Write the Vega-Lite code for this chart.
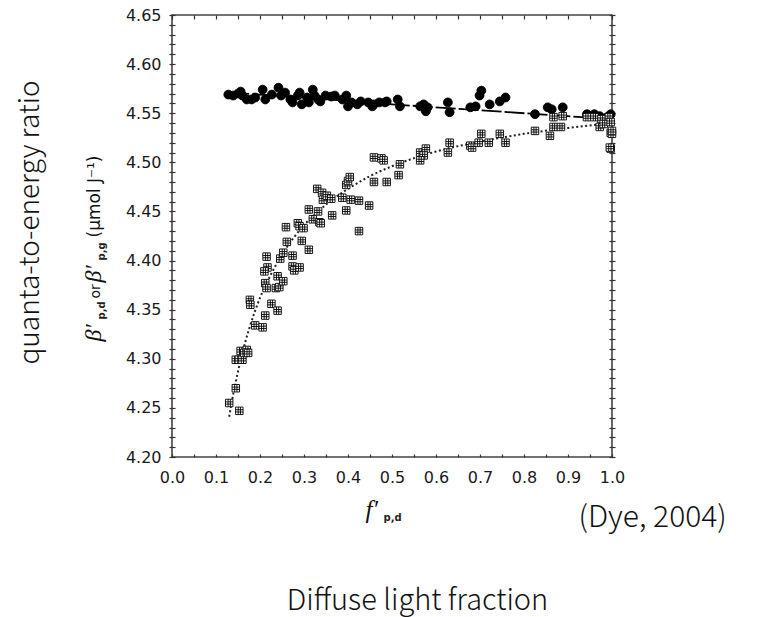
{
  "$schema": "https://vega.github.io/schema/vega-lite/v6.json",
  "width": 440,
  "height": 442,
  "autosize": "none",
  "padding": {"left": 172, "top": 15, "right": 149, "bottom": 160},
  "background": "white",
  "config": {
    "view": {"stroke": "#444", "strokeWidth": 1.6},
    "axis": {"grid": false, "labelFont": "DejaVu Sans", "labelFontSize": 16, "labelColor": "#1a1a1a", "tickColor": "#333", "tickWidth": 1.2, "domain": false}
  },
  "datasets": {
    "pts": [
      {"x": 0.128, "y": 4.569, "series": "daily global PAR"},
      {"x": 0.139, "y": 4.568, "series": "daily global PAR"},
      {"x": 0.150, "y": 4.570, "series": "daily global PAR"},
      {"x": 0.156, "y": 4.572, "series": "daily global PAR"},
      {"x": 0.160, "y": 4.568, "series": "daily global PAR"},
      {"x": 0.170, "y": 4.564, "series": "daily global PAR"},
      {"x": 0.181, "y": 4.564, "series": "daily global PAR"},
      {"x": 0.189, "y": 4.566, "series": "daily global PAR"},
      {"x": 0.206, "y": 4.574, "series": "daily global PAR"},
      {"x": 0.212, "y": 4.564, "series": "daily global PAR"},
      {"x": 0.227, "y": 4.569, "series": "daily global PAR"},
      {"x": 0.242, "y": 4.576, "series": "daily global PAR"},
      {"x": 0.248, "y": 4.568, "series": "daily global PAR"},
      {"x": 0.257, "y": 4.571, "series": "daily global PAR"},
      {"x": 0.269, "y": 4.564, "series": "daily global PAR"},
      {"x": 0.274, "y": 4.561, "series": "daily global PAR"},
      {"x": 0.286, "y": 4.568, "series": "daily global PAR"},
      {"x": 0.290, "y": 4.571, "series": "daily global PAR"},
      {"x": 0.295, "y": 4.559, "series": "daily global PAR"},
      {"x": 0.307, "y": 4.566, "series": "daily global PAR"},
      {"x": 0.311, "y": 4.561, "series": "daily global PAR"},
      {"x": 0.320, "y": 4.574, "series": "daily global PAR"},
      {"x": 0.324, "y": 4.568, "series": "daily global PAR"},
      {"x": 0.332, "y": 4.564, "series": "daily global PAR"},
      {"x": 0.337, "y": 4.562, "series": "daily global PAR"},
      {"x": 0.349, "y": 4.568, "series": "daily global PAR"},
      {"x": 0.362, "y": 4.567, "series": "daily global PAR"},
      {"x": 0.370, "y": 4.568, "series": "daily global PAR"},
      {"x": 0.387, "y": 4.564, "series": "daily global PAR"},
      {"x": 0.396, "y": 4.568, "series": "daily global PAR"},
      {"x": 0.400, "y": 4.557, "series": "daily global PAR"},
      {"x": 0.408, "y": 4.561, "series": "daily global PAR"},
      {"x": 0.421, "y": 4.559, "series": "daily global PAR"},
      {"x": 0.429, "y": 4.562, "series": "daily global PAR"},
      {"x": 0.446, "y": 4.561, "series": "daily global PAR"},
      {"x": 0.455, "y": 4.557, "series": "daily global PAR"},
      {"x": 0.459, "y": 4.559, "series": "daily global PAR"},
      {"x": 0.471, "y": 4.561, "series": "daily global PAR"},
      {"x": 0.484, "y": 4.561, "series": "daily global PAR"},
      {"x": 0.488, "y": 4.562, "series": "daily global PAR"},
      {"x": 0.513, "y": 4.564, "series": "daily global PAR"},
      {"x": 0.518, "y": 4.557, "series": "daily global PAR"},
      {"x": 0.564, "y": 4.557, "series": "daily global PAR"},
      {"x": 0.572, "y": 4.559, "series": "daily global PAR"},
      {"x": 0.577, "y": 4.552, "series": "daily global PAR"},
      {"x": 0.581, "y": 4.556, "series": "daily global PAR"},
      {"x": 0.627, "y": 4.561, "series": "daily global PAR"},
      {"x": 0.631, "y": 4.551, "series": "daily global PAR"},
      {"x": 0.678, "y": 4.556, "series": "daily global PAR"},
      {"x": 0.690, "y": 4.557, "series": "daily global PAR"},
      {"x": 0.699, "y": 4.568, "series": "daily global PAR"},
      {"x": 0.703, "y": 4.573, "series": "daily global PAR"},
      {"x": 0.722, "y": 4.559, "series": "daily global PAR"},
      {"x": 0.745, "y": 4.562, "series": "daily global PAR"},
      {"x": 0.758, "y": 4.566, "series": "daily global PAR"},
      {"x": 0.825, "y": 4.549, "series": "daily global PAR"},
      {"x": 0.854, "y": 4.556, "series": "daily global PAR"},
      {"x": 0.863, "y": 4.554, "series": "daily global PAR"},
      {"x": 0.888, "y": 4.556, "series": "daily global PAR"},
      {"x": 0.943, "y": 4.549, "series": "daily global PAR"},
      {"x": 0.960, "y": 4.549, "series": "daily global PAR"},
      {"x": 0.972, "y": 4.547, "series": "daily global PAR"},
      {"x": 0.989, "y": 4.546, "series": "daily global PAR"},
      {"x": 0.997, "y": 4.549, "series": "daily global PAR"},
      {"x": 0.130, "y": 4.255, "series": "daily diffuse PAR"},
      {"x": 0.145, "y": 4.270, "series": "daily diffuse PAR"},
      {"x": 0.153, "y": 4.247, "series": "daily diffuse PAR"},
      {"x": 0.145, "y": 4.299, "series": "daily diffuse PAR"},
      {"x": 0.152, "y": 4.299, "series": "daily diffuse PAR"},
      {"x": 0.160, "y": 4.299, "series": "daily diffuse PAR"},
      {"x": 0.156, "y": 4.308, "series": "daily diffuse PAR"},
      {"x": 0.164, "y": 4.306, "series": "daily diffuse PAR"},
      {"x": 0.170, "y": 4.309, "series": "daily diffuse PAR"},
      {"x": 0.173, "y": 4.306, "series": "daily diffuse PAR"},
      {"x": 0.189, "y": 4.334, "series": "daily diffuse PAR"},
      {"x": 0.206, "y": 4.332, "series": "daily diffuse PAR"},
      {"x": 0.212, "y": 4.344, "series": "daily diffuse PAR"},
      {"x": 0.177, "y": 4.360, "series": "daily diffuse PAR"},
      {"x": 0.178, "y": 4.355, "series": "daily diffuse PAR"},
      {"x": 0.212, "y": 4.377, "series": "daily diffuse PAR"},
      {"x": 0.217, "y": 4.393, "series": "daily diffuse PAR"},
      {"x": 0.215, "y": 4.404, "series": "daily diffuse PAR"},
      {"x": 0.210, "y": 4.389, "series": "daily diffuse PAR"},
      {"x": 0.215, "y": 4.372, "series": "daily diffuse PAR"},
      {"x": 0.240, "y": 4.384, "series": "daily diffuse PAR"},
      {"x": 0.236, "y": 4.372, "series": "daily diffuse PAR"},
      {"x": 0.244, "y": 4.373, "series": "daily diffuse PAR"},
      {"x": 0.253, "y": 4.379, "series": "daily diffuse PAR"},
      {"x": 0.226, "y": 4.356, "series": "daily diffuse PAR"},
      {"x": 0.240, "y": 4.349, "series": "daily diffuse PAR"},
      {"x": 0.246, "y": 4.402, "series": "daily diffuse PAR"},
      {"x": 0.253, "y": 4.408, "series": "daily diffuse PAR"},
      {"x": 0.259, "y": 4.434, "series": "daily diffuse PAR"},
      {"x": 0.261, "y": 4.419, "series": "daily diffuse PAR"},
      {"x": 0.274, "y": 4.405, "series": "daily diffuse PAR"},
      {"x": 0.274, "y": 4.394, "series": "daily diffuse PAR"},
      {"x": 0.278, "y": 4.390, "series": "daily diffuse PAR"},
      {"x": 0.290, "y": 4.393, "series": "daily diffuse PAR"},
      {"x": 0.286, "y": 4.438, "series": "daily diffuse PAR"},
      {"x": 0.290, "y": 4.435, "series": "daily diffuse PAR"},
      {"x": 0.299, "y": 4.433, "series": "daily diffuse PAR"},
      {"x": 0.295, "y": 4.420, "series": "daily diffuse PAR"},
      {"x": 0.311, "y": 4.411, "series": "daily diffuse PAR"},
      {"x": 0.311, "y": 4.452, "series": "daily diffuse PAR"},
      {"x": 0.320, "y": 4.442, "series": "daily diffuse PAR"},
      {"x": 0.332, "y": 4.450, "series": "daily diffuse PAR"},
      {"x": 0.335, "y": 4.439, "series": "daily diffuse PAR"},
      {"x": 0.338, "y": 4.438, "series": "daily diffuse PAR"},
      {"x": 0.330, "y": 4.473, "series": "daily diffuse PAR"},
      {"x": 0.341, "y": 4.469, "series": "daily diffuse PAR"},
      {"x": 0.343, "y": 4.462, "series": "daily diffuse PAR"},
      {"x": 0.352, "y": 4.466, "series": "daily diffuse PAR"},
      {"x": 0.362, "y": 4.463, "series": "daily diffuse PAR"},
      {"x": 0.364, "y": 4.446, "series": "daily diffuse PAR"},
      {"x": 0.387, "y": 4.464, "series": "daily diffuse PAR"},
      {"x": 0.396, "y": 4.451, "series": "daily diffuse PAR"},
      {"x": 0.396, "y": 4.477, "series": "daily diffuse PAR"},
      {"x": 0.400, "y": 4.481, "series": "daily diffuse PAR"},
      {"x": 0.404, "y": 4.485, "series": "daily diffuse PAR"},
      {"x": 0.406, "y": 4.462, "series": "daily diffuse PAR"},
      {"x": 0.425, "y": 4.461, "series": "daily diffuse PAR"},
      {"x": 0.425, "y": 4.430, "series": "daily diffuse PAR"},
      {"x": 0.448, "y": 4.456, "series": "daily diffuse PAR"},
      {"x": 0.459, "y": 4.480, "series": "daily diffuse PAR"},
      {"x": 0.488, "y": 4.480, "series": "daily diffuse PAR"},
      {"x": 0.459, "y": 4.505, "series": "daily diffuse PAR"},
      {"x": 0.476, "y": 4.504, "series": "daily diffuse PAR"},
      {"x": 0.481, "y": 4.502, "series": "daily diffuse PAR"},
      {"x": 0.518, "y": 4.498, "series": "daily diffuse PAR"},
      {"x": 0.515, "y": 4.487, "series": "daily diffuse PAR"},
      {"x": 0.564, "y": 4.510, "series": "daily diffuse PAR"},
      {"x": 0.577, "y": 4.514, "series": "daily diffuse PAR"},
      {"x": 0.572, "y": 4.507, "series": "daily diffuse PAR"},
      {"x": 0.564, "y": 4.502, "series": "daily diffuse PAR"},
      {"x": 0.627, "y": 4.510, "series": "daily diffuse PAR"},
      {"x": 0.631, "y": 4.520, "series": "daily diffuse PAR"},
      {"x": 0.678, "y": 4.517, "series": "daily diffuse PAR"},
      {"x": 0.682, "y": 4.515, "series": "daily diffuse PAR"},
      {"x": 0.697, "y": 4.520, "series": "daily diffuse PAR"},
      {"x": 0.703, "y": 4.529, "series": "daily diffuse PAR"},
      {"x": 0.720, "y": 4.520, "series": "daily diffuse PAR"},
      {"x": 0.745, "y": 4.529, "series": "daily diffuse PAR"},
      {"x": 0.758, "y": 4.520, "series": "daily diffuse PAR"},
      {"x": 0.825, "y": 4.532, "series": "daily diffuse PAR"},
      {"x": 0.859, "y": 4.527, "series": "daily diffuse PAR"},
      {"x": 0.867, "y": 4.536, "series": "daily diffuse PAR"},
      {"x": 0.884, "y": 4.536, "series": "daily diffuse PAR"},
      {"x": 0.867, "y": 4.546, "series": "daily diffuse PAR"},
      {"x": 0.888, "y": 4.547, "series": "daily diffuse PAR"},
      {"x": 0.943, "y": 4.546, "series": "daily diffuse PAR"},
      {"x": 0.960, "y": 4.546, "series": "daily diffuse PAR"},
      {"x": 0.976, "y": 4.544, "series": "daily diffuse PAR"},
      {"x": 0.993, "y": 4.546, "series": "daily diffuse PAR"},
      {"x": 0.972, "y": 4.536, "series": "daily diffuse PAR"},
      {"x": 0.981, "y": 4.539, "series": "daily diffuse PAR"},
      {"x": 0.997, "y": 4.541, "series": "daily diffuse PAR"},
      {"x": 0.997, "y": 4.530, "series": "daily diffuse PAR"},
      {"x": 1.000, "y": 4.529, "series": "daily diffuse PAR"},
      {"x": 0.997, "y": 4.514, "series": "daily diffuse PAR"},
      {"x": 0.995, "y": 4.515, "series": "daily diffuse PAR"},
      {"x": 1.000, "y": 4.532, "series": "daily diffuse PAR"}
    ],
    "gfit": [
      {"x": 0.13, "y": 4.571},
      {"x": 0.3, "y": 4.566},
      {"x": 0.5, "y": 4.559},
      {"x": 0.7, "y": 4.553},
      {"x": 0.9, "y": 4.547},
      {"x": 1.0, "y": 4.544}
    ],
    "dfit": [
      {"x": 0.13, "y": 4.241},
      {"x": 0.14, "y": 4.266},
      {"x": 0.15, "y": 4.287},
      {"x": 0.16, "y": 4.306},
      {"x": 0.175, "y": 4.330},
      {"x": 0.2, "y": 4.362},
      {"x": 0.225, "y": 4.386},
      {"x": 0.25, "y": 4.406},
      {"x": 0.3, "y": 4.436},
      {"x": 0.35, "y": 4.457},
      {"x": 0.4, "y": 4.473},
      {"x": 0.45, "y": 4.486},
      {"x": 0.5, "y": 4.496},
      {"x": 0.6, "y": 4.511},
      {"x": 0.7, "y": 4.521},
      {"x": 0.8, "y": 4.529},
      {"x": 0.9, "y": 4.535},
      {"x": 1.0, "y": 4.540}
    ],
    "anchor": [
      {"x": 0.5, "y": 4.4}
    ]
  },
  "resolve": {"axis": {"x": "independent", "y": "independent"}},
  "layer": [
    {
      "data": {"name": "gfit"},
      "mark": {"type": "line", "stroke": "#000", "strokeWidth": 1.8, "strokeDash": [20, 3]},
      "encoding": {
        "x": {"field": "x", "type": "quantitative", "scale": {"domain": [0, 1], "nice": false, "zero": false},
          "axis": {"orient": "bottom", "title": null, "offset": -3, "tickSize": 3, "labelPadding": 12, "labelFlush": false, "labelOverlap": false, "labelBound": false,
            "values": [0, 0.05, 0.1, 0.15, 0.2, 0.25, 0.3, 0.35, 0.4, 0.45, 0.5, 0.55, 0.6, 0.65, 0.7, 0.75, 0.8, 0.85, 0.9, 0.95, 1.0],
            "labelExpr": "round(datum.value*100) % 10 == 0 ? format(datum.value, '.1f') : ''"}},
        "y": {"field": "y", "type": "quantitative", "scale": {"domain": [4.2, 4.65], "nice": false, "zero": false},
          "axis": {"orient": "left", "title": null, "offset": -3, "tickSize": 6, "labelPadding": 8, "labelFlush": false, "labelOverlap": false, "labelBound": false,
            "values": [4.2, 4.21, 4.22, 4.23, 4.24, 4.25, 4.26, 4.27, 4.28, 4.29, 4.3, 4.31, 4.32, 4.33, 4.34, 4.35, 4.36, 4.37, 4.38, 4.39, 4.4, 4.41, 4.42, 4.43, 4.44, 4.45, 4.46, 4.47, 4.48, 4.49, 4.5, 4.51, 4.52, 4.53, 4.54, 4.55, 4.56, 4.57, 4.58, 4.59, 4.6, 4.61, 4.62, 4.63, 4.64, 4.65],
            "labelExpr": "round(datum.value*100) % 5 == 0 ? format(datum.value, '.2f') : ''"}}
      }
    },
    {
      "data": {"name": "dfit"},
      "mark": {"type": "line", "stroke": "#222", "strokeWidth": 2, "strokeDash": [2, 2.5], "interpolate": "monotone"},
      "encoding": {
        "x": {"field": "x", "type": "quantitative", "scale": {"domain": [0, 1], "nice": false, "zero": false},
          "axis": {"orient": "top", "title": null, "offset": -4, "tickSize": 4, "labels": false,
            "values": [0, 0.05, 0.1, 0.15, 0.2, 0.25, 0.3, 0.35, 0.4, 0.45, 0.5, 0.55, 0.6, 0.65, 0.7, 0.75, 0.8, 0.85, 0.9, 0.95, 1.0]}},
        "y": {"field": "y", "type": "quantitative", "scale": {"domain": [4.2, 4.65], "nice": false, "zero": false},
          "axis": {"orient": "right", "title": null, "offset": -3, "tickSize": 6, "labels": false,
            "values": [4.2, 4.21, 4.22, 4.23, 4.24, 4.25, 4.26, 4.27, 4.28, 4.29, 4.3, 4.31, 4.32, 4.33, 4.34, 4.35, 4.36, 4.37, 4.38, 4.39, 4.4, 4.41, 4.42, 4.43, 4.44, 4.45, 4.46, 4.47, 4.48, 4.49, 4.5, 4.51, 4.52, 4.53, 4.54, 4.55, 4.56, 4.57, 4.58, 4.59, 4.6, 4.61, 4.62, 4.63, 4.64, 4.65]}}
      }
    },
    {
      "data": {"name": "pts"},
      "mark": {"type": "point", "filled": true, "stroke": "#000", "strokeWidth": 0.9, "opacity": 1},
      "encoding": {
        "x": {"field": "x", "type": "quantitative", "scale": {"domain": [0, 1], "nice": false, "zero": false},
          "axis": {"orient": "bottom", "domain": false, "ticks": false, "labels": false, "title": "f′", "titleX": 193, "titleY": 60, "titleAlign": "left", "titleBaseline": "alphabetic", "titleAngle": 0, "titleFont": "Liberation Serif", "titleFontSize": 25, "titleFontStyle": "italic", "titleFontWeight": "normal", "titleColor": "#111"}},
        "y": {"field": "y", "type": "quantitative", "scale": {"domain": [4.2, 4.65], "nice": false, "zero": false},
          "axis": {"orient": "left", "domain": false, "ticks": false, "labels": false, "title": "quanta-to-energy ratio", "titleX": -134, "titleY": 207, "titleAlign": "center", "titleBaseline": "alphabetic", "titleAngle": 270, "titleFont": "Noto Sans CJK SC", "titleFontSize": 28, "titleFontWeight": 300, "titleColor": "#111"}},
        "shape": {"field": "series", "type": "nominal",
          "scale": {"domain": ["daily global PAR", "daily diffuse PAR"], "range": ["circle", "M-1,-1H1V1H-1ZM-0.3,-1V1M0.3,-1V1M-1,-0.3H1M-1,0.3H1"]},
          "legend": {"orient": "none", "legendX": 222, "legendY": 322, "title": null, "labelFont": "DejaVu Sans", "labelFontSize": 16, "labelColor": "#111", "symbolSize": 72, "symbolStrokeWidth": 1, "labelOffset": 22, "rowPadding": 7, "padding": 0}},
        "fill": {"field": "series", "type": "nominal",
          "scale": {"domain": ["daily global PAR", "daily diffuse PAR"], "range": ["#000", "#fff"]}, "legend": null},
        "size": {"field": "series", "type": "nominal",
          "scale": {"domain": ["daily global PAR", "daily diffuse PAR"], "range": [78, 56]}, "legend": null}
      }
    },
    {
      "data": {"name": "anchor"},
      "mark": {"type": "point", "opacity": 0},
      "encoding": {
        "x": {"field": "x", "type": "quantitative", "scale": {"domain": [0, 1], "nice": false, "zero": false},
          "axis": {"orient": "bottom", "domain": false, "ticks": false, "labels": false, "title": "p,d", "titleX": 211, "titleY": 63, "titleAlign": "left", "titleBaseline": "alphabetic", "titleAngle": 0, "titleFont": "DejaVu Sans", "titleFontSize": 10, "titleFontWeight": "bold", "titleColor": "#222"}},
        "y": {"field": "y", "type": "quantitative", "scale": {"domain": [4.2, 4.65], "nice": false, "zero": false},
          "axis": {"orient": "left", "domain": false, "ticks": false, "labels": false, "title": "β′", "titleX": -72, "titleY": 326, "titleAlign": "left", "titleBaseline": "alphabetic", "titleAngle": 270, "titleFont": "Liberation Serif", "titleFontSize": 24, "titleFontStyle": "italic", "titleFontWeight": "normal", "titleColor": "#111"}}
      }
    },
    {
      "data": {"name": "anchor"},
      "mark": {"type": "point", "opacity": 0},
      "encoding": {
        "x": {"field": "x", "type": "quantitative", "scale": {"domain": [0, 1], "nice": false, "zero": false},
          "axis": {"orient": "bottom", "domain": false, "ticks": false, "labels": false, "title": "(Dye, 2004)", "titleX": 406, "titleY": 69, "titleAlign": "left", "titleBaseline": "alphabetic", "titleAngle": 0, "titleFont": "Noto Sans CJK SC", "titleFontSize": 30, "titleFontWeight": 300, "titleColor": "#111"}},
        "y": {"field": "y", "type": "quantitative", "scale": {"domain": [4.2, 4.65], "nice": false, "zero": false},
          "axis": {"orient": "left", "domain": false, "ticks": false, "labels": false, "title": "p,d", "titleX": -68, "titleY": 304, "titleAlign": "left", "titleBaseline": "alphabetic", "titleAngle": 270, "titleFont": "DejaVu Sans", "titleFontSize": 10, "titleFontWeight": "bold", "titleColor": "#222"}}
      }
    },
    {
      "data": {"name": "anchor"},
      "mark": {"type": "point", "opacity": 0},
      "encoding": {
        "x": {"field": "x", "type": "quantitative", "scale": {"domain": [0, 1], "nice": false, "zero": false},
          "axis": {"orient": "bottom", "domain": false, "ticks": false, "labels": false, "title": "Diffuse light fraction", "titleX": 245, "titleY": 152, "titleAlign": "center", "titleBaseline": "alphabetic", "titleAngle": 0, "titleFont": "Noto Sans CJK SC", "titleFontSize": 29, "titleFontWeight": 300, "titleColor": "#111"}},
        "y": {"field": "y", "type": "quantitative", "scale": {"domain": [4.2, 4.65], "nice": false, "zero": false},
          "axis": {"orient": "left", "domain": false, "ticks": false, "labels": false, "title": "or", "titleX": -73, "titleY": 283, "titleAlign": "left", "titleBaseline": "alphabetic", "titleAngle": 270, "titleFont": "DejaVu Sans", "titleFontSize": 14, "titleFontWeight": "normal", "titleColor": "#111"}}
      }
    },
    {
      "data": {"name": "anchor"},
      "mark": {"type": "point", "opacity": 0},
      "encoding": {
        "x": {"field": "x", "type": "quantitative", "scale": {"domain": [0, 1], "nice": false, "zero": false}, "axis": null},
        "y": {"field": "y", "type": "quantitative", "scale": {"domain": [4.2, 4.65], "nice": false, "zero": false},
          "axis": {"orient": "left", "domain": false, "ticks": false, "labels": false, "title": "β′", "titleX": -72, "titleY": 267, "titleAlign": "left", "titleBaseline": "alphabetic", "titleAngle": 270, "titleFont": "Liberation Serif", "titleFontSize": 24, "titleFontStyle": "italic", "titleFontWeight": "normal", "titleColor": "#111"}}
      }
    },
    {
      "data": {"name": "anchor"},
      "mark": {"type": "point", "opacity": 0},
      "encoding": {
        "x": {"field": "x", "type": "quantitative", "scale": {"domain": [0, 1], "nice": false, "zero": false}, "axis": null},
        "y": {"field": "y", "type": "quantitative", "scale": {"domain": [4.2, 4.65], "nice": false, "zero": false},
          "axis": {"orient": "left", "domain": false, "ticks": false, "labels": false, "title": "p,g", "titleX": -68, "titleY": 245, "titleAlign": "left", "titleBaseline": "alphabetic", "titleAngle": 270, "titleFont": "DejaVu Sans", "titleFontSize": 10, "titleFontWeight": "bold", "titleColor": "#222"}}
      }
    },
    {
      "data": {"name": "anchor"},
      "mark": {"type": "point", "opacity": 0},
      "encoding": {
        "x": {"field": "x", "type": "quantitative", "scale": {"domain": [0, 1], "nice": false, "zero": false}, "axis": null},
        "y": {"field": "y", "type": "quantitative", "scale": {"domain": [4.2, 4.65], "nice": false, "zero": false},
          "axis": {"orient": "left", "domain": false, "ticks": false, "labels": false, "title": "(μmol J⁻¹)", "titleX": -73, "titleY": 222, "titleAlign": "left", "titleBaseline": "alphabetic", "titleAngle": 270, "titleFont": "DejaVu Sans", "titleFontSize": 17, "titleFontWeight": "normal", "titleColor": "#111"}}
      }
    }
  ]
}
